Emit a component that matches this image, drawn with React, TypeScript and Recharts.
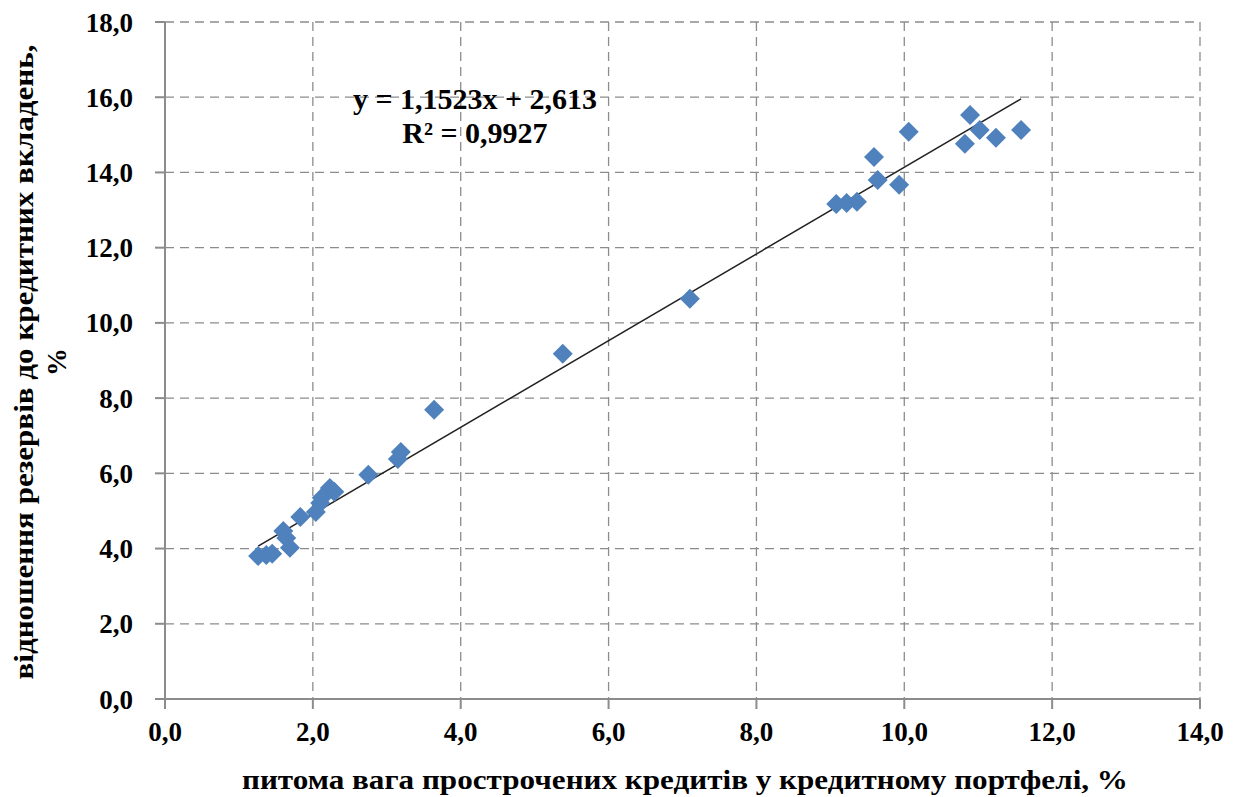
import React from 'react';
import {
  ScatterChart,
  Scatter,
  XAxis,
  YAxis,
  CartesianGrid,
  ReferenceLine,
} from 'recharts';

const overdueShare = [
  1.26, 1.37, 1.45, 1.6, 1.64, 1.69, 1.83, 2.04, 2.1, 2.12, 2.23, 2.29, 2.75, 3.15, 3.19,
  3.64, 5.38, 7.1, 9.08, 9.22, 9.36, 9.59, 9.64, 9.93, 10.06, 10.82, 10.89, 11.02, 11.24, 11.58,
];
const reserveRatio = [
  3.8, 3.83, 3.86, 4.47, 4.28, 4.02, 4.84, 4.97, 5.21, 5.35, 5.61, 5.51, 5.96, 6.38, 6.57,
  7.69, 9.18, 10.64, 13.16, 13.19, 13.22, 14.41, 13.8, 13.67, 15.08, 14.76, 15.53, 15.13, 14.92, 15.13,
];
const xTicks = [0, 2, 4, 6, 8, 10, 12, 14];
const yTicks = [0, 2, 4, 6, 8, 10, 12, 14, 16, 18];

const slope = 1.1523;
const intercept = 2.613;

const points = overdueShare.map((x, i) => ({ x, y: reserveRatio[i] }));
const xMin = Math.min(...overdueShare);
const xMax = Math.max(...overdueShare);

const fmt = (v: number) => v.toFixed(1).replace('.', ',');
const FONT = '"Liberation Serif", "Times New Roman", serif';

const Diamond = (props: any) => {
  const { cx, cy } = props;
  const r = 10;
  return (
    <polygon
      points={`${cx},${cy - r} ${cx + r},${cy} ${cx},${cy + r} ${cx - r},${cy}`}
      fill="#4F81BD"
    />
  );
};

// axis titles are laid out against the whole chart, not the axis box
const XTitle = () => (
  <text
    x={685}
    y={789}
    textAnchor="middle"
    textLength={886}
    lengthAdjust="spacingAndGlyphs"
    fontFamily={FONT}
    fontWeight="bold"
    fontSize={28}
    fill="#000"
  >
    питома вага прострочених  кредитів у кредитному портфелі, %
  </text>
);

const YTitle = () => (
  <g transform="translate(0, 362) rotate(-90)">
    <text
      x={0}
      y={33}
      textAnchor="middle"
      textLength={635}
      lengthAdjust="spacingAndGlyphs"
      fontFamily={FONT}
      fontWeight="bold"
      fontSize={28}
      fill="#000"
    >
      відношення резервів до кредитних вкладень,
    </text>
    <text x={0} y={66} textAnchor="middle" fontFamily={FONT} fontWeight="bold" fontSize={28} fill="#000">
      %
    </text>
  </g>
);

const tickStyle = { fontFamily: FONT, fontWeight: 'bold', fontSize: 27, fill: '#000' };

export default function App() {
  return (
    <div style={{ position: 'absolute', left: 0, top: 0, width: 1242, height: 797, background: '#fff' }}>
      <ScatterChart width={1242} height={797} margin={{ top: 22, right: 42, left: 0, bottom: 0 }}>
        <CartesianGrid stroke="#8c8c8c" strokeDasharray="9 6" strokeWidth={1.3} />
        <XAxis
          type="number"
          dataKey="x"
          domain={[0, 14]}
          ticks={xTicks}
          tickFormatter={fmt}
          height={98}
          stroke="#8c8c8c"
          strokeWidth={2}
          tickSize={10}
          tickMargin={13}
          tick={tickStyle}
          label={<XTitle />}
          allowDataOverflow
        />
        <YAxis
          type="number"
          dataKey="y"
          domain={[0, 18]}
          ticks={yTicks}
          tickFormatter={fmt}
          width={165}
          stroke="#8c8c8c"
          strokeWidth={2}
          tickSize={10}
          tickMargin={22}
          tick={tickStyle}
          label={<YTitle />}
          allowDataOverflow
        />
        <ReferenceLine
          segment={[
            { x: xMin, y: slope * xMin + intercept },
            { x: xMax, y: slope * xMax + intercept },
          ]}
          stroke="#222"
          strokeWidth={1.5}
          ifOverflow="visible"
        />
        <Scatter data={points} shape={<Diamond />} isAnimationActive={false} />
      </ScatterChart>
      <div
        style={{
          position: 'absolute',
          left: 325,
          top: 82,
          width: 300,
          textAlign: 'center',
          fontFamily: FONT,
          fontWeight: 'bold',
          fontSize: 30,
          lineHeight: '34px',
          color: '#000',
        }}
      >
        <div>y = 1,1523x + 2,613</div>
        <div>R² = 0,9927</div>
      </div>
    </div>
  );
}
